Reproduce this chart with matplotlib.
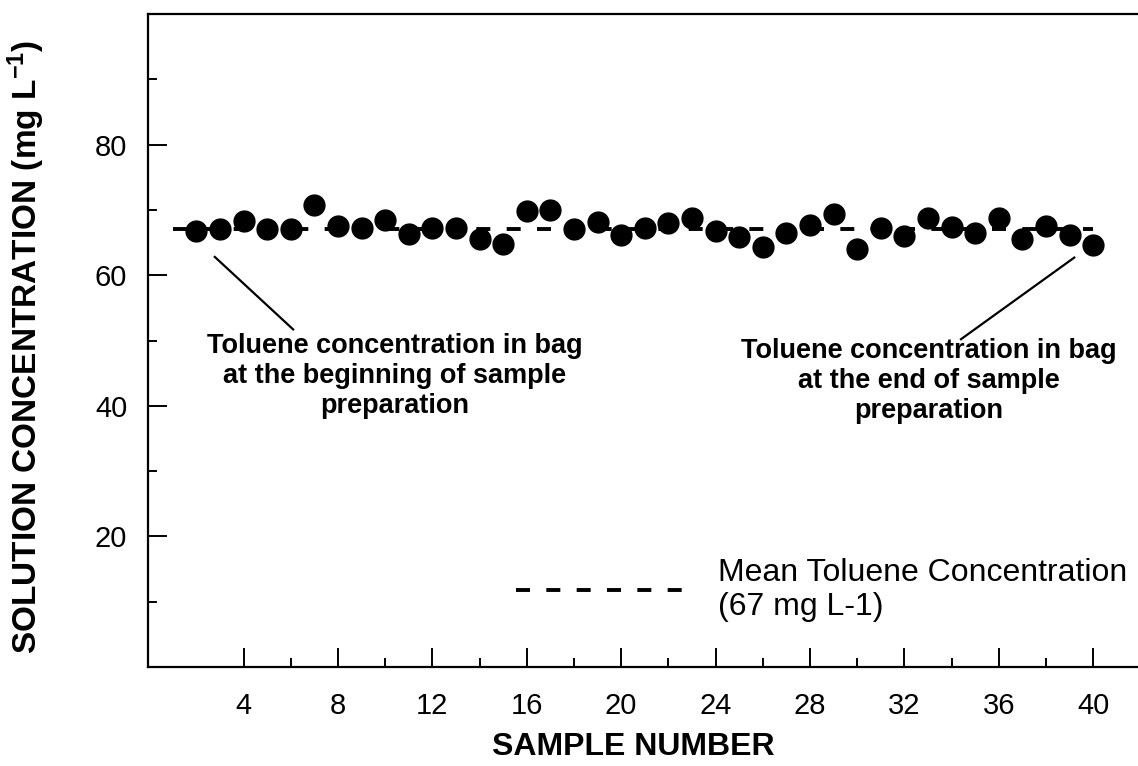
import matplotlib
matplotlib.use("Agg")
import matplotlib.pyplot as plt
from matplotlib.ticker import FixedLocator

plt.rcParams["font.family"] = ["Liberation Sans", "DejaVu Sans"]
plt.rcParams["mathtext.fontset"] = "custom"
plt.rcParams["mathtext.rm"] = "Liberation Sans"
plt.rcParams["mathtext.default"] = "regular"

# sample numbers and measured toluene concentration (mg/L)
sample = list(range(2, 41))
conc = [66.7, 67.1, 68.3, 67.1, 67.1, 70.8, 67.6, 67.3, 68.4, 66.3,
        67.2, 67.2, 65.6, 64.8, 69.9, 70.0, 67.1, 68.1, 66.1, 67.2,
        68.0, 68.7, 66.7, 65.9, 64.3, 66.4, 67.7, 69.4, 64.0, 67.2,
        66.0, 68.8, 67.4, 66.4, 68.7, 65.5, 67.5, 66.2, 64.6]

mean_x = [1, 40]
mean_y = [67, 67]

x_major = [4, 8, 12, 16, 20, 24, 28, 32, 36, 40]
x_minor = [6, 10, 14, 18, 22, 26, 30, 34, 38]
y_major = [20, 40, 60, 80]
y_minor = [10, 30, 50, 70, 90]

fig = plt.figure(figsize=(11.38, 7.66), dpi=100)
ax = fig.add_axes([148 / 1138, 1 - 667 / 766, 990 / 1138, 653 / 766])

ax.plot(mean_x, mean_y, color="black", lw=2.8, dashes=(3.6, 4.2),
        label="Mean Toluene Concentration\n(67 mg L-1)", zorder=2)
ax.plot(sample, conc, "o", color="black", ms=15, zorder=3)

ax.set_xlim(-0.05, 41.9)
ax.set_ylim(0, 100)

ax.xaxis.set_major_locator(FixedLocator(x_major))
ax.xaxis.set_minor_locator(FixedLocator(x_minor))
ax.yaxis.set_major_locator(FixedLocator(y_major))
ax.yaxis.set_minor_locator(FixedLocator(y_minor))

ax.tick_params(which="both", direction="in", width=1.4, labelsize=21)
ax.tick_params(which="major", length=13.7)
ax.tick_params(which="minor", length=6.5)
ax.tick_params(axis="x", pad=18)
ax.tick_params(axis="y", pad=15)

ax.spines["right"].set_visible(False)
for s in ["left", "bottom", "top"]:
    ax.spines[s].set_linewidth(1.6)

ax.set_xlabel("SAMPLE NUMBER", fontsize=23, fontweight="bold")
ax.xaxis.set_label_coords(0.49, -0.1)
ax.set_ylabel("SOLUTION CONCENTRATION (mg L$^{-1}$)", fontsize=24,
              fontweight="bold")
ax.yaxis.set_label_coords(-0.102, 0.49)

# annotations
ax.plot([2.78, 6.1], [62.8, 51.7], color="black", lw=1.6)
ax.plot([39.2, 34.4], [62.7, 50.2], color="black", lw=1.6)
ax.text(10.4, 51.2, "Toluene concentration in bag\nat the beginning of sample\npreparation",
        ha="center", va="top", fontsize=19.5, fontweight="bold", linespacing=1.2)
ax.text(33.05, 50.4, "Toluene concentration in bag\nat the end of sample\npreparation",
        ha="center", va="top", fontsize=19.5, fontweight="bold", linespacing=1.2)

ax.legend(loc="center left", bbox_to_anchor=(0.3717, 0.118), frameon=False,
          fontsize=23, handlelength=5.45, handletextpad=0.87, borderpad=0,
          borderaxespad=0)

fig.savefig("out.png", dpi=100)
